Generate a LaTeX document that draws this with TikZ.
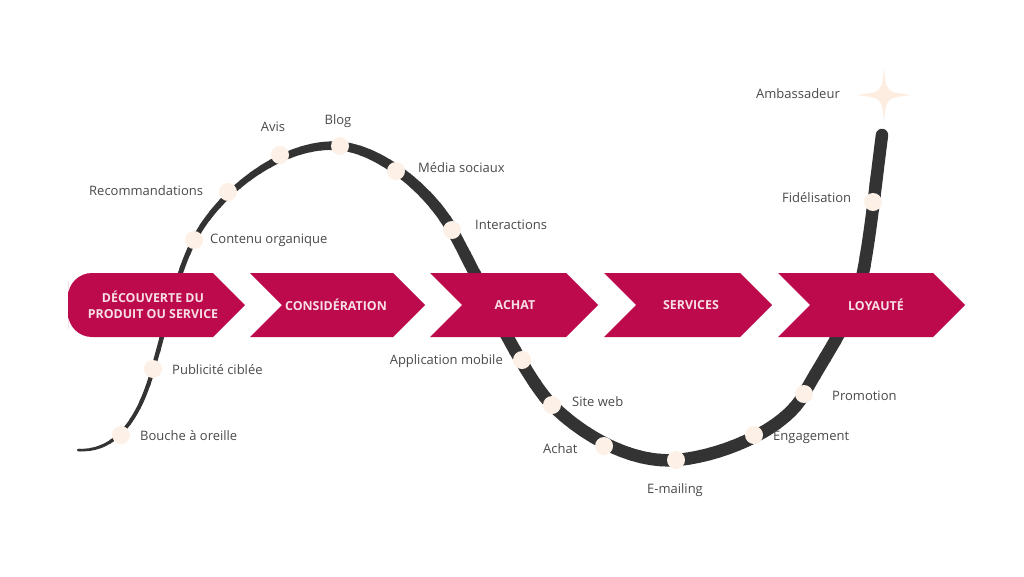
\documentclass[tikz,border=0pt]{standalone}
\usepackage{fontspec}
\setmainfont{Open Sans}
\begin{document}
\begin{tikzpicture}[x=1pt,y=-1pt,
  chev/.style={fill=chevcol,draw=none},
  chevtxt/.style={text=chevtext,font=\fontsize{12.4}{16}\selectfont\bfseries,align=center,inner sep=0},
  lbl/.style={text=lblcol,font=\fontsize{13}{15}\selectfont,inner sep=0},
  dot/.style={circle,fill=dotcol,minimum size=18pt,inner sep=0,draw=none}]
\definecolor{chevcol}{HTML}{BC0A4C}
\definecolor{chevtext}{HTML}{F8DEE5}
\definecolor{lblcol}{HTML}{4A4A4A}
\definecolor{dotcol}{HTML}{FDF0E6}
\definecolor{curvecol}{HTML}{333333}
\definecolor{starcol}{HTML}{FDEDE1}
\useasboundingbox[fill=white] (0,0) rectangle (1024,576);

% curve points
\coordinate (p0) at (78,450);
\coordinate (p1) at (121,435);
\coordinate (p2) at (153,369);
\coordinate (p3) at (194,240);
\coordinate (p4) at (228,192);
\coordinate (p5) at (280,155);
\coordinate (p6) at (340,146);
\coordinate (p7) at (396,171);
\coordinate (p8) at (452,230);
\coordinate (p9) at (522,360);
\coordinate (p10) at (552,405);
\coordinate (p11) at (604,446);
\coordinate (p12) at (676,460);
\coordinate (p13) at (754,435);
\coordinate (p14) at (804,394);
\coordinate (q1) at (860,285);
\coordinate (p15) at (873,202);
\coordinate (p16) at (882,135);

\def\curvepath{(p0) .. controls (110,452) and (137,428) .. (p2)
  .. controls (166,324) and (176,276) .. (p3)
  .. controls (220,190) and (285,141) .. (p6)
  .. controls (380,149.6) and (430,190) .. (p8)
  .. controls (477,275) and (522,375) .. (p10)
  .. controls (582,435) and (631,463.6) .. (p12)
  .. controls (721,456.4) and (785,430) .. (p14)
  .. controls (826,354) and (848,325) .. (q1)
  .. controls (868,258) and (876,180) .. (p16)}

% tapered curve
\foreach \i in {0,...,85} {
  \pgfmathsetmacro\xa{70+\i*10}
  \pgfmathsetmacro\xm{\xa+5}
  \pgfmathsetmacro\w{min(2.5+max(\xm-78,0)*0.024,12.5)}
  \begin{scope}
    \clip (\xa-0.5,0) rectangle (\xa+10.5,576);
    \draw[curvecol,line width=\w pt,line cap=round] \curvepath;
  \end{scope}
}

% chevrons
\path[chev] (68,305) [rounded corners=24] -- (68,273) -- (150,273) [sharp corners] -- (213,273) -- (245,305) -- (213,337) -- (150,337)
  [rounded corners=24] -- (68,337) -- cycle;
\path[chev] (250,273) -- (393,273) -- (425,305) -- (393,337) -- (250,337) -- (282,305) -- cycle;
\path[chev] (430,273) -- (566,273) -- (598,305) -- (566,337) -- (430,337) -- (462,305) -- cycle;
\path[chev] (604,273) -- (740,273) -- (772,305) -- (740,337) -- (604,337) -- (636,305) -- cycle;
\path[chev] (778,273) -- (933,273) -- (965,305) -- (933,337) -- (778,337) -- (810,305) -- cycle;

\node[chevtxt] (c1) at (153,305) {DÉCOUVERTE DU\\PRODUIT OU SERVICE};
\node[chevtxt] (c2) at (336,305) {CONSIDÉRATION};
\node[chevtxt] (c3) at (515,305) {ACHAT};
\node[chevtxt] (c4) at (691,305) {SERVICES};
\node[chevtxt] (c5) at (876,305) {LOYAUTÉ};

% dots
\foreach \k in {1,...,15} { \node[dot] (d\k) at (p\k) {}; }

% star
\path[fill=starcol] (884,67) .. controls (886,92) .. (911,95) .. controls (886,98) .. (884,123)
  .. controls (882,98) .. (857,95) .. controls (882,92) .. cycle;

% labels
\node[lbl,anchor=west] (l1) at (140,436) {Bouche à oreille};
\node[lbl,anchor=west] (l2) at (172,370) {Publicité ciblée};
\node[lbl,anchor=west] (l3) at (210,240) {Contenu organique};
\node[lbl,anchor=west] (l4) at (89,191) {Recommandations};
\node[lbl] (l5) at (273,127) {Avis};
\node[lbl] (l6) at (338,121) {Blog};
\node[lbl,anchor=west] (l7) at (418,168) {Média sociaux};
\node[lbl,anchor=west] (l8) at (475,225) {Interactions};
\node[lbl,anchor=east] (l9) at (503,361) {Application mobile};
\node[lbl,anchor=west] (l10) at (572,402) {Site web};
\node[lbl,anchor=west] (l11) at (543,449) {Achat};
\node[lbl] (l12) at (675,490) {E-mailing};
\node[lbl,anchor=west] (l13) at (773,437) {Engagement};
\node[lbl,anchor=west] (l14) at (832,396) {Promotion};
\node[lbl,anchor=west] (l15) at (782,198) {Fidélisation};
\node[lbl,anchor=east] (l16) at (840,94) {Ambassadeur};
\end{tikzpicture}
\end{document}
